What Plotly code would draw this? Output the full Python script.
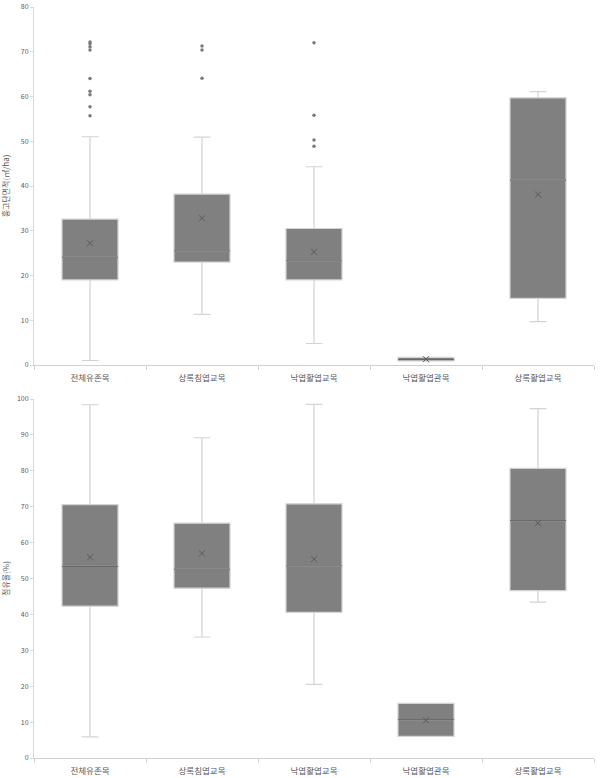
import plotly.graph_objects as go

categories = ["전체유존목", "상록침엽교목", "낙엽활엽교목", "낙엽활엽관목", "상록활엽교목"]

# Top chart: 흉고단면적
ba_low = [1.0, 11.3, 4.8, 0.9, 9.7]
ba_q1 = [19.0, 23.0, 19.0, 0.9, 14.9]
ba_med = [24.1, 25.5, 23.3, 1.2, 41.3]
ba_q3 = [32.6, 38.2, 30.5, 1.7, 59.7]
ba_high = [51.0, 50.9, 44.3, 1.7, 61.1]
ba_mean = [27.2, 32.8, 25.3, 1.3, 38.1]
ba_out_cat = ["전체유존목"] * 9 + ["상록침엽교목"] * 3 + ["낙엽활엽교목"] * 4
ba_out_val = [72.2, 71.8, 71.1, 70.4, 64.0, 61.2, 60.4, 57.7, 55.7,
              71.3, 70.4, 64.1,
              72.0, 55.8, 50.3, 48.9]

# Bottom chart: 점유율
sh_low = [5.9, 33.7, 20.5, 6.0, 43.4]
sh_q1 = [42.3, 47.3, 40.6, 6.0, 46.6]
sh_med = [53.4, 52.6, 53.5, 10.7, 66.1]
sh_q3 = [70.6, 65.4, 70.8, 15.2, 80.7]
sh_high = [98.4, 89.2, 98.5, 15.2, 97.3]
sh_mean = [55.9, 57.0, 55.4, 10.5, 65.4]

FILL = "#808080"
WHISK = "#d3d3d3"
MED = "#6a6a6a"
TXT = "#595959"
FONT = "Noto Sans CJK KR"

fig = go.Figure()


def add_set(xa, ya, low, q1, med, q3, high, mean, out_cat=None, out_val=None):
    fig.add_trace(go.Box(
        x=categories, q1=q1, median=med, q3=q3, lowerfence=low, upperfence=high,
        boxpoints=False, width=0.5, whiskerwidth=0.3, fillcolor=FILL,
        line=dict(color=WHISK, width=1.2), xaxis=xa, yaxis=ya, showlegend=False,
        hoverinfo="skip"))
    # darker median line
    fig.add_trace(go.Box(
        x=categories, q1=med, median=med, q3=med, lowerfence=med, upperfence=med,
        boxpoints=False, width=0.5, whiskerwidth=0, fillcolor="rgba(0,0,0,0)",
        line=dict(color=MED, width=1.2), xaxis=xa, yaxis=ya, showlegend=False,
        hoverinfo="skip"))
    fig.add_trace(go.Scatter(
        x=categories, y=mean, mode="markers", xaxis=xa, yaxis=ya,
        marker=dict(symbol="x-thin-open", size=6, color="#5a5a5a",
                    line=dict(color="#5a5a5a", width=1)),
        showlegend=False, hoverinfo="skip"))
    if out_cat:
        fig.add_trace(go.Scatter(
            x=out_cat, y=out_val, mode="markers", xaxis=xa, yaxis=ya,
            marker=dict(symbol="circle", size=3.5, color="#7a7a7a"),
            showlegend=False, hoverinfo="skip"))


add_set("x", "y", ba_low, ba_q1, ba_med, ba_q3, ba_high, ba_mean, ba_out_cat, ba_out_val)
add_set("x2", "y2", sh_low, sh_q1, sh_med, sh_q3, sh_high, sh_mean)

W, H = 603, 778
xdom = [34 / W, 594 / W]
xcommon = dict(type="category", categoryorder="array", categoryarray=categories,
               range=[-0.5, 4.5], domain=xdom, showline=True, linecolor="#d0d0d0",
               linewidth=1, ticks="outside", tickson="boundaries", ticklen=4,
               tickcolor="#d0d0d0", showgrid=False, zeroline=False,
               ticklabelstandoff=5,
               tickfont=dict(size=8.5, color=TXT, family=FONT), automargin=False)
ycommon = dict(showline=True, linecolor="#d9d9d9", linewidth=1, ticks="outside",
               ticklen=3, tickcolor="#d9d9d9", showgrid=False, zeroline=False,
               tickfont=dict(size=7, color=TXT, family=FONT), automargin=False,
               dtick=10, title_standoff=10)

fig.update_layout(
    width=W, height=H, margin=dict(l=0, r=0, t=0, b=0),
    paper_bgcolor="white", plot_bgcolor="white", boxmode="overlay",
    xaxis=dict(**xcommon, anchor="y"),
    xaxis2=dict(**xcommon, anchor="y2"),
    yaxis=dict(**ycommon, range=[0, 80], domain=[1 - 365 / H, 1 - 7 / H], anchor="x",
               title=dict(text="흉고단면적(㎡/ha)", font=dict(size=8, color=TXT, family=FONT))),
    yaxis2=dict(**ycommon, range=[0, 100], domain=[1 - 758 / H, 1 - 399 / H], anchor="x2",
                title=dict(text="점유율(%)", font=dict(size=8, color=TXT, family=FONT))),
)

fig.write_html("out.html")
